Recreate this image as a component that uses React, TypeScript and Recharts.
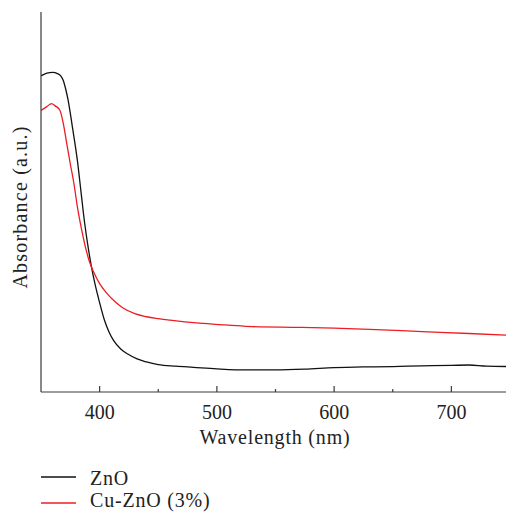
import React from 'react';
import { LineChart, Line, XAxis, YAxis } from 'recharts';

// wavelength (nm) / absorbance (a.u., 0-100 scale)
const znoNm = [350, 355, 360, 364, 367, 369, 371, 373, 377, 381, 384, 387, 390, 393, 396, 400, 404, 408, 412, 418, 424, 432, 440, 450, 465, 480, 500, 525, 550, 575, 600, 625, 650, 675, 700, 715, 730, 750];
const znoAbs = [83.2, 83.9, 84.1, 83.8, 83.1, 82.0, 79.8, 77.0, 69.3, 61.0, 53.0, 45.0, 38.5, 33.0, 28.5, 23.5, 19.0, 15.8, 13.5, 11.3, 10.0, 8.7, 7.9, 7.2, 6.8, 6.5, 6.1, 5.8, 5.8, 6.0, 6.4, 6.6, 6.7, 6.9, 7.0, 7.1, 6.8, 6.7];

const cuNm = [350, 355, 359, 362, 366, 369, 372, 375, 378, 381, 385, 388, 391, 395, 400, 406, 413, 420, 430, 440, 450, 460, 485, 510, 530, 570, 600, 630, 675, 715, 750];
const cuAbs = [74.1, 75.1, 75.9, 75.3, 74.2, 70.7, 65.3, 60.0, 55.0, 48.8, 42.2, 38.0, 34.6, 31.5, 28.5, 26.0, 23.8, 22.1, 20.6, 19.8, 19.3, 18.9, 18.1, 17.6, 17.2, 17.0, 16.8, 16.5, 15.9, 15.4, 14.9];

const xTicks = [400, 450, 500, 550, 600, 650, 700];
const majorTicks = [400, 500, 600, 700];

const znoData = znoNm.map((nm, i) => ({ nm, abs: znoAbs[i] }));
const cuData = cuNm.map((nm, i) => ({ nm, abs: cuAbs[i] }));

const FONT = '"Liberation Serif", "DejaVu Serif", serif';
const AXIS = '#3a3a3a';
const TXT = { fontFamily: FONT, fontSize: 20, fill: '#222', letterSpacing: 0.8 };

const XTick = (props: any) => {
  const { x, y, payload } = props;
  const major = majorTicks.includes(payload.value);
  return (
    <g>
      <line x1={x} x2={x} y1={y} y2={y - (major ? 6 : 3)} stroke={AXIS} strokeWidth={1.2} />
      {major && (
        <text x={x} y={y + 27} textAnchor="middle" {...TXT} letterSpacing={0}>
          {payload.value}
        </text>
      )}
    </g>
  );
};

export default function App() {
  return (
    <div style={{ position: 'absolute', left: 0, top: 0, width: 506, height: 512, overflow: 'hidden' }}>
      <LineChart width={520} height={460} margin={{ top: 12, right: 10, left: 0, bottom: 0 }}>
        <XAxis
          xAxisId="top"
          orientation="top"
          type="number"
          dataKey="nm"
          domain={[350, 750]}
          height={0}
          tick={false}
          tickLine={false}
          stroke={AXIS}
          strokeWidth={1.2}
        />
        <XAxis
          type="number"
          dataKey="nm"
          domain={[350, 750]}
          ticks={xTicks}
          tick={<XTick />}
          tickLine={false}
          tickSize={0}
          tickMargin={0}
          height={68}
          stroke={AXIS}
          strokeWidth={1.2}
          allowDataOverflow
          label={{
            content: () => (
              <text x={275} y={444} textAnchor="middle" {...TXT}>
                Wavelength (nm)
              </text>
            ),
          }}
        />
        <YAxis
          type="number"
          domain={[0, 100]}
          width={41}
          tick={false}
          tickLine={false}
          stroke={AXIS}
          strokeWidth={1.2}
          allowDataOverflow
          label={{
            content: () => (
              <text transform="rotate(-90)" x={-207} y={27} textAnchor="middle" {...TXT} letterSpacing={1.2}>
                Absorbance (a.u.)
              </text>
            ),
          }}
        />
        <Line data={znoData} dataKey="abs" stroke="#111" strokeWidth={1.3} dot={false} isAnimationActive={false} type="monotone" />
        <Line data={cuData} dataKey="abs" stroke="#ee1c24" strokeWidth={1.3} dot={false} isAnimationActive={false} type="monotone" />
      </LineChart>
      <svg width={506} height={52} style={{ display: 'block' }}>
        <line x1={41} x2={76} y1={17} y2={17} stroke="#111" strokeWidth={1.3} />
        <text x={90} y={25} {...TXT}>ZnO</text>
        <line x1={41} x2={76} y1={43} y2={43} stroke="#ee1c24" strokeWidth={1.3} />
        <text x={90} y={47} {...TXT}>Cu-ZnO (3%)</text>
      </svg>
    </div>
  );
}
